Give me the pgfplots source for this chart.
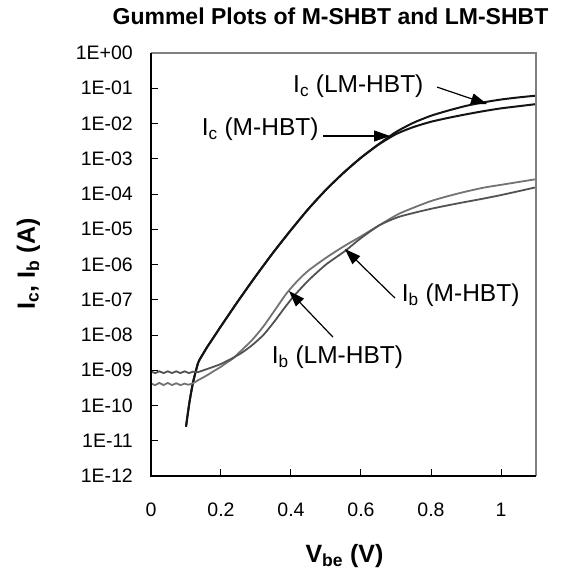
\documentclass[border=0pt]{standalone}
\usepackage{fontspec}
\setmainfont{Liberation Sans}
\usepackage{pgfplots}
\pgfplotsset{compat=1.18}
\usetikzlibrary{arrows.meta}

\newcommand{\fs}[1]{\fontsize{#1}{#1}\selectfont}
\newcommand{\tl}[1]{{\fontsize{19.5pt}{21pt}\selectfont #1}}

\begin{document}
\begin{tikzpicture}
\begin{axis}[name=ax, at={(0,0)}, anchor=south west,
  scale only axis, width=385pt, height=423pt,
  xmin=0, xmax=1.1, ymode=log, ymin=1e-12, ymax=1,
  xtick={0,0.2,0.4,0.6,0.8,1},
  xticklabels={\tl{0},\tl{0.2},\tl{0.4},\tl{0.6},\tl{0.8},\tl{1}},
  ytick={1e-12,1e-11,1e-10,1e-9,1e-8,1e-7,1e-6,1e-5,1e-4,1e-3,1e-2,1e-1,1},
  yticklabels={\tl{1E-12},\tl{1E-11},\tl{1E-10},\tl{1E-09},\tl{1E-08},\tl{1E-07},
    \tl{1E-06},\tl{1E-05},\tl{1E-04},\tl{1E-03},\tl{1E-02},\tl{1E-01},\tl{1E+00}},
  yminorticks=false, xtick pos=bottom, ytick pos=left, tick align=inside,
  major tick length=7pt, tick style={black, line width=1pt},
  axis line style={draw=none},
  yticklabel style={inner sep=0pt, anchor=east, xshift=-18pt},
  xticklabel style={inner sep=0pt, anchor=north, yshift=-27pt}]
% I_c, LM-HBT
\addplot[black!92, line width=2pt, smooth, tension=0.4] coordinates {
(0.100,2.51e-11)(0.110,1.26e-10)(0.120,4.47e-10)(0.130,1.12e-9)(0.135,1.66e-9)
(0.140,2.09e-9)(0.160,4.47e-9)(0.180,8.91e-9)(0.200,1.78e-8)(0.250,9.55e-8)
(0.300,4.79e-7)(0.350,2.24e-6)(0.400,9.55e-6)(0.450,3.80e-5)(0.500,1.32e-4)
(0.550,3.98e-4)(0.600,1.07e-3)(0.650,2.57e-3)(0.700,5.75e-3)(0.750,1.05e-2)
(0.800,1.66e-2)(0.850,2.34e-2)(0.900,3.16e-2)(0.950,3.98e-2)(1.000,4.79e-2)
(1.050,5.50e-2)(1.100,6.17e-2)};
% I_c, M-HBT
\addplot[black!92, line width=2pt, smooth, tension=0.4] coordinates {
(0.100,2.51e-11)(0.110,1.26e-10)(0.120,4.47e-10)(0.130,1.12e-9)(0.135,1.66e-9)
(0.140,2.09e-9)(0.160,4.47e-9)(0.180,8.91e-9)(0.200,1.78e-8)(0.250,9.55e-8)
(0.300,4.79e-7)(0.350,2.24e-6)(0.400,9.55e-6)(0.450,3.80e-5)(0.500,1.32e-4)
(0.550,3.98e-4)(0.600,1.07e-3)(0.650,2.51e-3)(0.700,5.00e-3)(0.750,7.94e-3)
(0.800,1.12e-2)(0.850,1.45e-2)(0.900,1.82e-2)(0.950,2.24e-2)(1.000,2.69e-2)
(1.050,3.09e-2)(1.100,3.55e-2)};
% I_b, LM-HBT
\addplot[black!55, line width=1.8pt, smooth, tension=0.4] coordinates {
(0.000,4.27e-10)(0.012,3.80e-10)(0.024,4.37e-10)(0.036,3.80e-10)(0.048,4.37e-10)
(0.060,3.80e-10)(0.072,4.27e-10)(0.084,3.80e-10)(0.096,4.17e-10)(0.106,3.89e-10)
(0.120,4.27e-10)(0.135,5.25e-10)(0.150,6.31e-10)(0.164,7.59e-10)(0.180,9.55e-10)
(0.200,1.26e-9)(0.220,1.74e-9)(0.234,2.14e-9)(0.260,3.80e-9)(0.290,7.41e-9)
(0.321,1.74e-8)(0.350,4.47e-8)(0.388,1.55e-7)(0.420,3.55e-7)(0.450,6.76e-7)
(0.500,1.55e-6)(0.550,3.24e-6)(0.600,6.31e-6)(0.650,1.26e-5)(0.711,2.82e-5)
(0.800,6.31e-5)(0.880,1.05e-4)(0.950,1.51e-4)(1.000,1.82e-4)(1.050,2.19e-4)
(1.100,2.63e-4)};
% I_b, M-HBT
\addplot[black!68, line width=1.8pt, smooth, tension=0.4] coordinates {
(0.000,9.33e-10)(0.012,8.32e-10)(0.024,9.33e-10)(0.036,8.32e-10)(0.048,9.33e-10)
(0.060,8.32e-10)(0.072,9.33e-10)(0.084,8.32e-10)(0.096,9.33e-10)(0.108,8.32e-10)
(0.120,9.12e-10)(0.135,8.91e-10)(0.150,1.00e-9)(0.173,1.20e-9)(0.200,1.51e-9)
(0.234,2.24e-9)(0.260,3.16e-9)(0.290,5.25e-9)(0.321,1.00e-8)(0.350,2.24e-8)
(0.380,5.62e-8)(0.407,1.23e-7)(0.450,3.55e-7)(0.500,1.00e-6)(0.554,2.40e-6)
(0.600,5.62e-6)(0.654,1.32e-5)(0.711,2.29e-5)(0.800,3.80e-5)(0.880,5.50e-5)
(0.950,7.41e-5)(1.000,9.33e-5)(1.050,1.20e-4)(1.100,1.55e-4)};
% annotation arrows
\begin{scope}[-{Triangle[length=16pt,width=11pt]}, line width=1.2pt]
\draw (axis cs:0.817,1.08e-1) -- (axis cs:0.960,3.57e-2);
\draw (axis cs:0.491,4.42e-3) -- (axis cs:0.683,4.42e-3);
\draw (axis cs:0.697,1.12e-7) -- (axis cs:0.554,2.75e-6);
\draw (axis cs:0.520,8.7e-9) -- (axis cs:0.394,1.78e-7);
\end{scope}
\end{axis}
% frame: grey top/right, black left/bottom
\draw[black!50, line width=1.5pt] (ax.north west) -- (ax.north east) -- (ax.south east);
\draw[black, line width=1.5pt] (ax.north west) -- (ax.south west) -- (ax.south east);
\begin{scope}[every node/.style={inner sep=0pt}]
\node[anchor=base west, font=\fs{24.5}] at (142pt,383pt) {I\textsubscript{c} (LM-HBT)};
\node[anchor=base west, font=\fs{24.5}] at (50.7pt,340pt) {I\textsubscript{c} (M-HBT)};
\node[anchor=base west, font=\fs{24.5}] at (250.7pt,174.3pt) {I\textsubscript{b} (M-HBT)};
\node[anchor=base west, font=\fs{24.5}] at (120.7pt,112.7pt) {I\textsubscript{b} (LM-HBT)};
\node[anchor=base, font=\fs{23}\bfseries] at (179.5pt,451pt) {Gummel Plots of M-SHBT and LM-SHBT};
\node[anchor=base, font=\fs{25}\bfseries] at (193.5pt,-86pt) {V\textsubscript{be} (V)};
\node[anchor=base, rotate=90, font=\fs{25}\bfseries] at (-116pt,212pt) {I\textsubscript{c}, I\textsubscript{b} (A)};
\end{scope}
\path[use as bounding box] (-151pt,-95pt) rectangle (415pt,476pt);
\end{tikzpicture}
\end{document}
